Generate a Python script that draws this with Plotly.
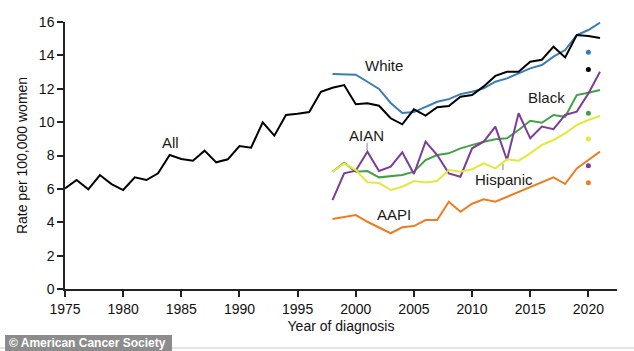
import plotly.graph_objects as go

years_all = list(range(1975, 2022))
all_vals = [6.03, 6.53, 5.97, 6.83, 6.29, 5.93, 6.69, 6.53, 6.93, 8.03,
            7.79, 7.69, 8.29, 7.59, 7.77, 8.57, 8.47, 9.99, 9.19, 10.43,
            10.50, 10.60, 11.82, 12.06, 12.22, 11.07, 11.13, 10.98, 10.23, 9.87,
            10.77, 10.39, 10.89, 10.96, 11.52, 11.62, 12.14, 12.77, 13.02, 13.02,
            13.62, 13.74, 14.52, 13.88, 15.22, 15.16, 15.04]

years_grp = list(range(1998, 2022))
white = [12.88, 12.88, 12.84, 12.42, 11.99, 11.15, 10.55, 10.60, 10.89, 11.22,
         11.38, 11.68, 11.82, 12.02, 12.42, 12.62, 12.92, 13.22, 13.42, 13.92,
         14.32, 15.22, 15.52, 15.96]
black = [7.03, 7.57, 7.03, 7.07, 6.69, 6.77, 6.83, 7.03, 7.73, 8.03,
         8.13, 8.43, 8.63, 8.83, 8.97, 9.03, 9.53, 10.08, 9.96, 10.43,
         10.32, 11.62, 11.76, 11.92]
aian = [5.33, 6.93, 7.09, 8.23, 7.07, 7.33, 8.19, 6.89, 8.83, 8.03,
        6.93, 6.73, 8.43, 8.83, 9.73, 7.73, 10.53, 9.03, 9.73, 9.58,
        10.43, 10.63, 11.72, 13.02]
hispanic = [7.03, 7.53, 7.13, 6.40, 6.35, 5.93, 6.13, 6.47, 6.39, 6.47,
            7.13, 7.03, 7.18, 7.53, 7.23, 7.77, 7.69, 8.13, 8.63, 8.93,
            9.33, 9.83, 10.13, 10.37]
aapi = [4.19, 4.33, 4.43, 4.03, 3.70, 3.34, 3.70, 3.77, 4.13, 4.13,
        5.23, 4.63, 5.11, 5.37, 5.23, 5.53, 5.83, 6.13, 6.43, 6.69,
        6.29, 7.23, 7.73, 8.23]

dot_year = 2020
dot_names = ["White", "All", "Black", "Hispanic", "AIAN", "AAPI"]
dot_vals = [14.18, 13.16, 10.53, 8.99, 7.39, 6.37]

colors = {"All": "#000000", "White": "#3a7db5", "Black": "#44a046",
          "AIAN": "#7d3c98", "Hispanic": "#e4e83a", "AAPI": "#ec7d22"}

FONT = "Arial, Liberation Sans, Helvetica, sans-serif"

fig = go.Figure()
series = [("White", years_grp, white), ("Black", years_grp, black),
          ("AIAN", years_grp, aian), ("Hispanic", years_grp, hispanic),
          ("AAPI", years_grp, aapi), ("All", years_all, all_vals)]
for name, xs, ys in series:
    fig.add_trace(go.Scatter(x=xs, y=ys, mode="lines", name=name,
                             line=dict(color=colors[name], width=2),
                             showlegend=False))

fig.add_trace(go.Scatter(x=[dot_year] * len(dot_vals), y=dot_vals, mode="markers",
                         marker=dict(color=[colors[n] for n in dot_names], size=5),
                         showlegend=False))

labels = [("White", 2002.43, 13.42), ("All", 1984.1, 8.75), ("AIAN", 2000.88, 9.17),
          ("Black", 2016.36, 11.5), ("Hispanic", 2012.75, 6.59), ("AAPI", 2003.29, 4.49)]
for text, lx, ly in labels:
    fig.add_annotation(x=lx, y=ly, text=text, showarrow=False,
                       font=dict(family=FONT, size=15, color="#1a1a1a"))

# leader ticks
fig.add_shape(type="line", x0=2000.97, x1=2000.97, y0=8.33, y1=8.75,
              line=dict(color="#888888", width=1))
fig.add_shape(type="line", x0=2012.66, x1=2012.66, y0=7.13, y1=7.5,
              line=dict(color="#888888", width=1))

# bottom rule and credit box
fig.add_shape(type="line", xref="paper", yref="paper", x0=-0.2, x1=1.2,
              y0=(351 - 348 - 62) / 267, y1=(351 - 348 - 62) / 267,
              line=dict(color="#c8c8c8", width=1))
fig.add_shape(type="rect", xref="paper", yref="paper",
              x0=(5 - 65) / 552, x1=(172 - 65) / 552,
              y0=(289 - 351) / 267, y1=(289 - 335) / 267,
              fillcolor="#8c8c8c", line=dict(width=0), layer="above")
fig.add_annotation(xref="paper", yref="paper", x=(7 - 65) / 552, y=(289 - 343) / 267,
                   xanchor="left", yanchor="middle", showarrow=False,
                   text="<b>© American Cancer Society</b>",
                   font=dict(family=FONT, size=12, color="#ffffff"))

fig.update_layout(
    width=634, height=351,
    margin=dict(l=65, r=17, t=22, b=62),
    paper_bgcolor="white", plot_bgcolor="white",
    font=dict(family=FONT, size=14, color="#111111"),
    xaxis=dict(range=[1975, 2022.46], tickmode="array",
               tickvals=[1975, 1980, 1985, 1990, 1995, 2000, 2005, 2010, 2015, 2020],
               showgrid=False, zeroline=False, showline=True, linecolor="#222222",
               linewidth=1.5, ticks="outside", ticklen=6, tickwidth=1.5,
               tickcolor="#222222",
               title=dict(text="Year of diagnosis", standoff=6,
                          font=dict(size=14))),
    yaxis=dict(range=[0, 16], tickmode="array", tickvals=list(range(0, 17, 2)),
               showgrid=False, zeroline=False, showline=True, linecolor="#222222",
               linewidth=1.5, ticks="outside", ticklen=6, tickwidth=1.5,
               tickcolor="#222222",
               title=dict(text="Rate per 100,000 women", standoff=8,
                          font=dict(size=14))),
)

fig.write_html("out.html")
